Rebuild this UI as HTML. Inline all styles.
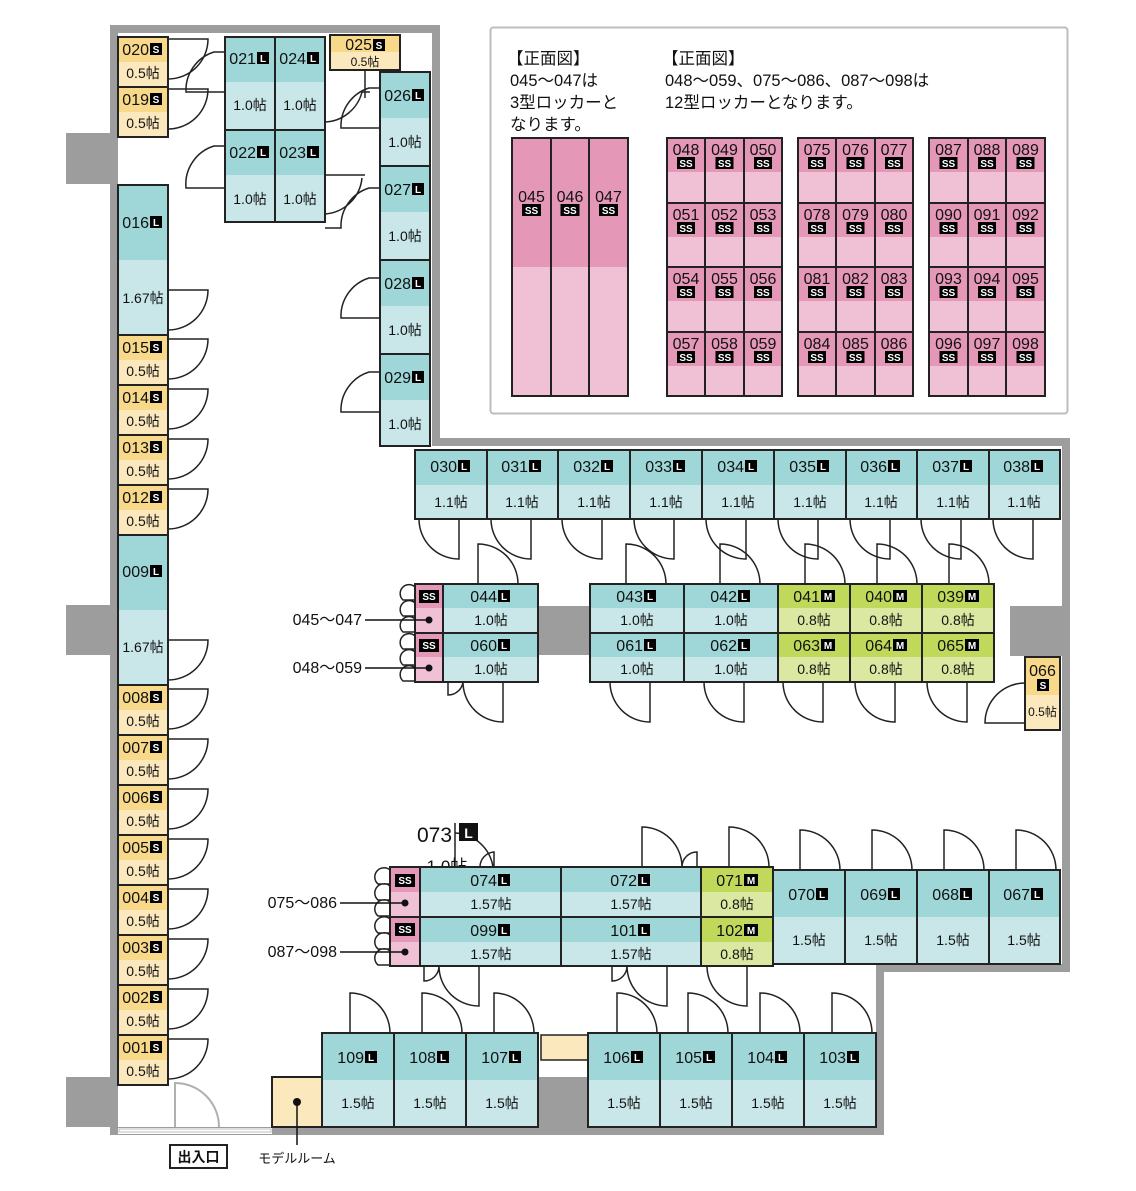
<!DOCTYPE html>
<html><head><meta charset="utf-8"><style>
body{margin:0;background:#fff}
svg{display:block;font-family:"Liberation Sans","Noto Sans CJK JP",sans-serif}
.o{fill:none;stroke:#222;stroke-width:2}
.n{font-size:16px;fill:#111;text-anchor:end}
.c{font-size:16px;fill:#111;text-anchor:middle}
.a{font-size:14px;fill:#111;text-anchor:middle}
.b{font-size:10px;fill:#fff;font-weight:bold;text-anchor:middle}
.w{fill:#9d9d9d}
.d{fill:none;stroke:#222;stroke-width:1.5}
.Lh{fill:#9fd6d8}.Lb{fill:#c9e7e9}.Sh{fill:#f8d98a}.Sb{fill:#fbe9bd}.Mh{fill:#c0d95a}.Mb{fill:#dbe8a2}.Ph{fill:#e597b8}.Pb{fill:#f0c1d5}
.t{font-size:16.5px;fill:#111}
.l{font-size:16px;fill:#111;text-anchor:end}
</style></head><body>
<svg width="1136" height="1191" viewBox="0 0 1136 1191" xmlns="http://www.w3.org/2000/svg">
<!-- walls -->
<rect class="w" x="110" y="25" width="8" height="1110"/>
<rect class="w" x="110" y="25" width="330" height="8"/>
<rect class="w" x="432" y="25" width="8" height="421"/>
<rect class="w" x="432" y="438" width="638" height="8"/>
<rect class="w" x="1062" y="438" width="8" height="534"/>
<rect class="w" x="876" y="964" width="194" height="8"/>
<rect class="w" x="876" y="964" width="8" height="171"/>
<rect class="w" x="110" y="1127" width="774" height="8"/>
<rect class="w" x="66" y="133" width="52" height="51"/>
<rect class="w" x="66" y="605" width="52" height="50"/>
<rect class="w" x="66" y="1077" width="52" height="50"/>
<rect class="w" x="538" y="606" width="52" height="49"/>
<rect class="w" x="1010" y="606" width="52" height="50"/>
<rect class="w" x="538" y="1077" width="52" height="50"/>
<rect x="118" y="1128" width="154" height="6" fill="#fff"/>
<rect x="119" y="1129" width="152" height="3" fill="none" stroke="#c8c8c8" stroke-width="1.2"/>
<path d="M175,1127 V1083 A44,44 0 0 1 219,1127" fill="none" stroke="#b0b0b0" stroke-width="2"/>
<rect x="170" y="1145" width="57" height="23" fill="#fff" stroke="#222" stroke-width="2"/>
<text x="198.5" y="1162" font-size="14" font-weight="bold" text-anchor="middle" fill="#111">出入口</text>
<!-- model room -->
<rect x="272" y="1077" width="50" height="50" class="Sb"/><rect x="272" y="1077" width="50" height="50" class="o"/>
<circle cx="297" cy="1102" r="4" fill="#111"/><path d="M297,1102 V1145" stroke="#111" stroke-width="1.5"/>
<text x="297" y="1163" font-size="13" text-anchor="middle" fill="#111">モデルルーム</text>
<rect x="541" y="1035" width="47" height="25" class="Sb"/><rect x="541" y="1035" width="47" height="25" fill="none" stroke="#222" stroke-width="1.5"/>

<!-- doors -->
<g class="d">
<path d="M168,39 H208 A40,40 0 0 1 168,79"/>
<path d="M168,89 H208 A40,40 0 0 1 168,129"/>
<path d="M168,290 H208 A40,40 0 0 1 168,330"/>
<path d="M168,339 H208 A40,40 0 0 1 168,379"/><path d="M168,389 H208 A40,40 0 0 1 168,429"/><path d="M168,439 H208 A40,40 0 0 1 168,479"/><path d="M168,489 H208 A40,40 0 0 1 168,529"/>
<path d="M168,640 H208 A40,40 0 0 1 168,680"/>
<path d="M168,689 H208 A40,40 0 0 1 168,729"/><path d="M168,739 H208 A40,40 0 0 1 168,779"/><path d="M168,789 H208 A40,40 0 0 1 168,829"/><path d="M168,839 H208 A40,40 0 0 1 168,879"/><path d="M168,889 H208 A40,40 0 0 1 168,929"/><path d="M168,939 H208 A40,40 0 0 1 168,979"/><path d="M168,989 H208 A40,40 0 0 1 168,1029"/><path d="M168,1039 H208 A40,40 0 0 1 168,1079"/>
<path d="M225,92 H186 A40,40 0 0 1 214,52 H225"/>
<path d="M225,188 H186 A40,40 0 0 1 214,146 H225"/>
<path d="M325,122 A40,40 0 0 0 362,92 H370 M365,98 V70"/>
<path d="M325,214 A40,40 0 0 0 362,178"/>
<path d="M380,128 H341 A40,40 0 0 1 369,88 H380 M325,175 H365 M325,228 H341 A40,40 0 0 1 369,188 H380"/>
<path d="M380,318 H341 A40,40 0 0 1 369,278 H380"/>
<path d="M380,412 H341 A40,40 0 0 1 369,372 H380"/>
<path d="M459,519 V559 A40,40 0 0 1 419,519"/><path d="M531,519 V559 A40,40 0 0 1 491,519"/><path d="M602,519 V559 A40,40 0 0 1 562,519"/><path d="M674,519 V559 A40,40 0 0 1 634,519"/><path d="M746,519 V559 A40,40 0 0 1 706,519"/><path d="M818,519 V559 A40,40 0 0 1 778,519"/><path d="M890,519 V559 A40,40 0 0 1 850,519"/><path d="M961,519 V559 A40,40 0 0 1 921,519"/><path d="M1033,519 V559 A40,40 0 0 1 993,519"/>
<path d="M478,584 V544 A40,40 0 0 1 518,584"/><path d="M626,584 V544 A40,40 0 0 1 666,584"/><path d="M720,584 V544 A40,40 0 0 1 760,584"/><path d="M805,584 V544 A40,40 0 0 1 845,584"/><path d="M877,584 V544 A40,40 0 0 1 917,584"/><path d="M949,584 V544 A40,40 0 0 1 989,584"/>
<path d="M503,682 V722 A40,40 0 0 1 463,682 M448,682 V695 A15,15 0 0 0 463,682"/><path d="M650,682 V722 A40,40 0 0 1 610,682"/><path d="M744,682 V722 A40,40 0 0 1 704,682"/><path d="M823,682 V722 A40,40 0 0 1 783,682"/><path d="M895,682 V722 A40,40 0 0 1 855,682"/><path d="M967,682 V722 A40,40 0 0 1 927,682"/>
<path d="M1025,723 H985 A40,40 0 0 1 1025,683"/>
<path d="M455,823 V867 M455,833 A40,40 0 0 1 493,867 M494,867 V852 A15,15 0 0 0 480,867"/>
<path d="M642,867 V827 A40,40 0 0 1 682,867 M697,867 V852 A15,15 0 0 0 682,867"/><path d="M729,867 V827 A40,40 0 0 1 769,867"/>
<path d="M800,870 V830 A40,40 0 0 1 840,870"/><path d="M872,870 V830 A40,40 0 0 1 912,870"/><path d="M944,870 V830 A40,40 0 0 1 984,870"/><path d="M1016,870 V830 A40,40 0 0 1 1056,870"/>
<path d="M479,966 V1006 A40,40 0 0 1 439,966 M424,966 V981 A15,15 0 0 0 439,966"/><path d="M667,966 V1006 A40,40 0 0 1 627,966 M612,966 V981 A15,15 0 0 0 627,966"/><path d="M747,966 V1006 A40,40 0 0 1 707,966"/>
<path d="M350,1033 V993 A40,40 0 0 1 390,1033"/><path d="M422,1033 V993 A40,40 0 0 1 462,1033"/><path d="M494,1033 V993 A40,40 0 0 1 534,1033"/><path d="M617,1033 V993 A40,40 0 0 1 657,1033"/><path d="M688,1033 V993 A40,40 0 0 1 728,1033"/><path d="M760,1033 V993 A40,40 0 0 1 800,1033"/><path d="M832,1033 V993 A40,40 0 0 1 872,1033"/>
<path d="M415,600 H403 A8,8 0 0 1 415,587 M415,616 H403 A8,8 0 0 1 415,603 M415,632 H403 A8,8 0 0 1 415,619 M415,649 H403 A8,8 0 0 1 415,636 M415,665 H403 A8,8 0 0 1 415,652 M415,681 H403 A8,8 0 0 1 415,668"/>
<path d="M390,884 H378 A8,8 0 0 1 390,870 M390,900 H378 A8,8 0 0 1 390,886 M390,916 H378 A8,8 0 0 1 390,902 M390,933 H378 A8,8 0 0 1 390,919 M390,949 H378 A8,8 0 0 1 390,935 M390,965 H378 A8,8 0 0 1 390,951"/>
</g>

<!-- 073 label -->
<text x="417" y="842" font-size="21" fill="#111">073</text>
<rect x="459" y="823" width="19" height="18" fill="#111"/><text x="468.5" y="838" font-size="14" font-weight="bold" fill="#fff" text-anchor="middle">L</text>
<text x="447" y="872" font-size="17" fill="#111" text-anchor="middle">1.0帖</text>

<!-- left column -->
<g>
<rect class="Sh" x="118" y="37" width="50" height="25"/><rect class="Sb" x="118" y="62" width="50" height="25"/><rect class="o" x="118" y="37" width="50" height="50"/><text class="n" x="149" y="55">020</text><rect x="150" y="43" width="12" height="12"/><text class="b" x="156" y="53">S</text><text class="a" x="143" y="78">0.5帖</text>
<rect class="Sh" x="118" y="87" width="50" height="25"/><rect class="Sb" x="118" y="112" width="50" height="25"/><rect class="o" x="118" y="87" width="50" height="50"/><text class="n" x="149" y="105">019</text><rect x="150" y="93" width="12" height="12"/><text class="b" x="156" y="103">S</text><text class="a" x="143" y="128">0.5帖</text>
<rect class="Lh" x="118" y="185" width="50" height="75"/><rect class="Lb" x="118" y="260" width="50" height="75"/><rect class="o" x="118" y="185" width="50" height="150"/><text class="n" x="149" y="228">016</text><rect x="150" y="216" width="12" height="12"/><text class="b" x="156" y="226">L</text><text class="a" x="143" y="303">1.67帖</text>
<rect class="Sh" x="118" y="335" width="50" height="25"/><rect class="Sb" x="118" y="360" width="50" height="25"/><rect class="o" x="118" y="335" width="50" height="50"/><text class="n" x="149" y="353">015</text><rect x="150" y="341" width="12" height="12"/><text class="b" x="156" y="351">S</text><text class="a" x="143" y="376">0.5帖</text>
<rect class="Sh" x="118" y="385" width="50" height="25"/><rect class="Sb" x="118" y="410" width="50" height="25"/><rect class="o" x="118" y="385" width="50" height="50"/><text class="n" x="149" y="403">014</text><rect x="150" y="391" width="12" height="12"/><text class="b" x="156" y="401">S</text><text class="a" x="143" y="426">0.5帖</text>
<rect class="Sh" x="118" y="435" width="50" height="25"/><rect class="Sb" x="118" y="460" width="50" height="25"/><rect class="o" x="118" y="435" width="50" height="50"/><text class="n" x="149" y="453">013</text><rect x="150" y="441" width="12" height="12"/><text class="b" x="156" y="451">S</text><text class="a" x="143" y="476">0.5帖</text>
<rect class="Sh" x="118" y="485" width="50" height="25"/><rect class="Sb" x="118" y="510" width="50" height="25"/><rect class="o" x="118" y="485" width="50" height="50"/><text class="n" x="149" y="503">012</text><rect x="150" y="491" width="12" height="12"/><text class="b" x="156" y="501">S</text><text class="a" x="143" y="526">0.5帖</text>
<rect class="Lh" x="118" y="535" width="50" height="75"/><rect class="Lb" x="118" y="610" width="50" height="75"/><rect class="o" x="118" y="535" width="50" height="150"/><text class="n" x="149" y="577">009</text><rect x="150" y="565" width="12" height="12"/><text class="b" x="156" y="575">L</text><text class="a" x="143" y="652">1.67帖</text>
<rect class="Sh" x="118" y="685" width="50" height="25"/><rect class="Sb" x="118" y="710" width="50" height="25"/><rect class="o" x="118" y="685" width="50" height="50"/><text class="n" x="149" y="703">008</text><rect x="150" y="691" width="12" height="12"/><text class="b" x="156" y="701">S</text><text class="a" x="143" y="726">0.5帖</text>
<rect class="Sh" x="118" y="735" width="50" height="25"/><rect class="Sb" x="118" y="760" width="50" height="25"/><rect class="o" x="118" y="735" width="50" height="50"/><text class="n" x="149" y="753">007</text><rect x="150" y="741" width="12" height="12"/><text class="b" x="156" y="751">S</text><text class="a" x="143" y="776">0.5帖</text>
<rect class="Sh" x="118" y="785" width="50" height="25"/><rect class="Sb" x="118" y="810" width="50" height="25"/><rect class="o" x="118" y="785" width="50" height="50"/><text class="n" x="149" y="803">006</text><rect x="150" y="791" width="12" height="12"/><text class="b" x="156" y="801">S</text><text class="a" x="143" y="826">0.5帖</text>
<rect class="Sh" x="118" y="835" width="50" height="25"/><rect class="Sb" x="118" y="860" width="50" height="25"/><rect class="o" x="118" y="835" width="50" height="50"/><text class="n" x="149" y="853">005</text><rect x="150" y="841" width="12" height="12"/><text class="b" x="156" y="851">S</text><text class="a" x="143" y="876">0.5帖</text>
<rect class="Sh" x="118" y="885" width="50" height="25"/><rect class="Sb" x="118" y="910" width="50" height="25"/><rect class="o" x="118" y="885" width="50" height="50"/><text class="n" x="149" y="903">004</text><rect x="150" y="891" width="12" height="12"/><text class="b" x="156" y="901">S</text><text class="a" x="143" y="926">0.5帖</text>
<rect class="Sh" x="118" y="935" width="50" height="25"/><rect class="Sb" x="118" y="960" width="50" height="25"/><rect class="o" x="118" y="935" width="50" height="50"/><text class="n" x="149" y="953">003</text><rect x="150" y="941" width="12" height="12"/><text class="b" x="156" y="951">S</text><text class="a" x="143" y="976">0.5帖</text>
<rect class="Sh" x="118" y="985" width="50" height="25"/><rect class="Sb" x="118" y="1010" width="50" height="25"/><rect class="o" x="118" y="985" width="50" height="50"/><text class="n" x="149" y="1003">002</text><rect x="150" y="991" width="12" height="12"/><text class="b" x="156" y="1001">S</text><text class="a" x="143" y="1026">0.5帖</text>
<rect class="Sh" x="118" y="1035" width="50" height="25"/><rect class="Sb" x="118" y="1060" width="50" height="25"/><rect class="o" x="118" y="1035" width="50" height="50"/><text class="n" x="149" y="1053">001</text><rect x="150" y="1041" width="12" height="12"/><text class="b" x="156" y="1051">S</text><text class="a" x="143" y="1076">0.5帖</text>
</g>

<!-- top cluster -->
<g>
<rect class="Lh" x="225" y="37" width="100" height="45"/><rect class="Lb" x="225" y="82" width="100" height="48"/>
<rect class="Lh" x="225" y="130" width="100" height="45"/><rect class="Lb" x="225" y="175" width="100" height="47"/>
<rect class="o" x="225" y="37" width="50" height="93"/><rect class="o" x="275" y="37" width="50" height="93"/><rect class="o" x="225" y="130" width="50" height="92"/><rect class="o" x="275" y="130" width="50" height="92"/>
<text class="n" x="256" y="64">021</text><rect x="257" y="52" width="12" height="12"/><text class="b" x="263" y="62">L</text><text class="a" x="250" y="110">1.0帖</text>
<text class="n" x="306" y="64">024</text><rect x="307" y="52" width="12" height="12"/><text class="b" x="313" y="62">L</text><text class="a" x="300" y="110">1.0帖</text>
<text class="n" x="256" y="158">022</text><rect x="257" y="146" width="12" height="12"/><text class="b" x="263" y="156">L</text><text class="a" x="250" y="204">1.0帖</text>
<text class="n" x="306" y="158">023</text><rect x="307" y="146" width="12" height="12"/><text class="b" x="313" y="156">L</text><text class="a" x="300" y="204">1.0帖</text>
<rect class="Sh" x="330" y="35" width="70" height="17"/><rect class="Sb" x="330" y="52" width="70" height="18"/><rect class="o" x="330" y="35" width="70" height="35"/>
<text class="n" x="372" y="50">025</text><rect x="373" y="39" width="12" height="12"/><text class="b" x="379" y="49">S</text><text class="a" x="365" y="66" style="font-size:12px">0.5帖</text>
<rect class="Lh" x="380" y="72" width="50" height="46"/><rect class="Lb" x="380" y="118" width="50" height="48"/><rect class="o" x="380" y="72" width="50" height="94"/><text class="n" x="411" y="101">026</text><rect x="412" y="89" width="12" height="12"/><text class="b" x="418" y="99">L</text><text class="a" x="405" y="147">1.0帖</text>
<rect class="Lh" x="380" y="166" width="50" height="46"/><rect class="Lb" x="380" y="212" width="50" height="48"/><rect class="o" x="380" y="166" width="50" height="94"/><text class="n" x="411" y="195">027</text><rect x="412" y="183" width="12" height="12"/><text class="b" x="418" y="193">L</text><text class="a" x="405" y="241">1.0帖</text>
<rect class="Lh" x="380" y="260" width="50" height="46"/><rect class="Lb" x="380" y="306" width="50" height="48"/><rect class="o" x="380" y="260" width="50" height="94"/><text class="n" x="411" y="289">028</text><rect x="412" y="277" width="12" height="12"/><text class="b" x="418" y="287">L</text><text class="a" x="405" y="335">1.0帖</text>
<rect class="Lh" x="380" y="354" width="50" height="46"/><rect class="Lb" x="380" y="400" width="50" height="46"/><rect class="o" x="380" y="354" width="50" height="92"/><text class="n" x="411" y="383">029</text><rect x="412" y="371" width="12" height="12"/><text class="b" x="418" y="381">L</text><text class="a" x="405" y="429">1.0帖</text>
</g>

<!-- row 030-038 -->
<g>
<rect class="Lh" x="415" y="450" width="645" height="35"/><rect class="Lb" x="415" y="485" width="645" height="34"/>
<rect class="o" x="415" y="450" width="72" height="69"/><rect class="o" x="487" y="450" width="71" height="69"/><rect class="o" x="558" y="450" width="72" height="69"/><rect class="o" x="630" y="450" width="72" height="69"/><rect class="o" x="702" y="450" width="72" height="69"/><rect class="o" x="774" y="450" width="72" height="69"/><rect class="o" x="846" y="450" width="71" height="69"/><rect class="o" x="917" y="450" width="72" height="69"/><rect class="o" x="989" y="450" width="71" height="69"/>
<text class="n" x="457" y="472">030</text><rect x="458" y="460" width="12" height="12"/><text class="b" x="464" y="470">L</text><text class="a" x="451" y="507">1.1帖</text>
<text class="n" x="528" y="472">031</text><rect x="529" y="460" width="12" height="12"/><text class="b" x="535" y="470">L</text><text class="a" x="522" y="507">1.1帖</text>
<text class="n" x="600" y="472">032</text><rect x="601" y="460" width="12" height="12"/><text class="b" x="607" y="470">L</text><text class="a" x="594" y="507">1.1帖</text>
<text class="n" x="672" y="472">033</text><rect x="673" y="460" width="12" height="12"/><text class="b" x="679" y="470">L</text><text class="a" x="666" y="507">1.1帖</text>
<text class="n" x="744" y="472">034</text><rect x="745" y="460" width="12" height="12"/><text class="b" x="751" y="470">L</text><text class="a" x="738" y="507">1.1帖</text>
<text class="n" x="816" y="472">035</text><rect x="817" y="460" width="12" height="12"/><text class="b" x="823" y="470">L</text><text class="a" x="810" y="507">1.1帖</text>
<text class="n" x="887" y="472">036</text><rect x="888" y="460" width="12" height="12"/><text class="b" x="894" y="470">L</text><text class="a" x="881" y="507">1.1帖</text>
<text class="n" x="959" y="472">037</text><rect x="960" y="460" width="12" height="12"/><text class="b" x="966" y="470">L</text><text class="a" x="953" y="507">1.1帖</text>
<text class="n" x="1030" y="472">038</text><rect x="1031" y="460" width="12" height="12"/><text class="b" x="1037" y="470">L</text><text class="a" x="1024" y="507">1.1帖</text>
</g>

<!-- middle rows -->
<g>
<rect class="Ph" x="415" y="584" width="28" height="24"/><rect class="Pb" x="415" y="608" width="28" height="25"/><rect class="Ph" x="415" y="633" width="28" height="24"/><rect class="Pb" x="415" y="657" width="28" height="25"/>
<rect class="o" x="415" y="584" width="28" height="49"/><rect class="o" x="415" y="633" width="28" height="49"/>
<rect x="419" y="590" width="20" height="13"/><text class="b" x="429" y="600">SS</text><rect x="419" y="639" width="20" height="13"/><text class="b" x="429" y="649">SS</text>
<circle cx="429" cy="620" r="3.5" fill="#111"/><circle cx="429" cy="668" r="3.5" fill="#111"/>
<path d="M365,620 H429 M365,668 H429" stroke="#111" stroke-width="1.5"/>
<text class="l" x="362" y="625">045～047</text><text class="l" x="362" y="673">048～059</text>
<rect class="Lh" x="443" y="584" width="95" height="24"/><rect class="Lb" x="443" y="608" width="95" height="25"/><rect class="Lh" x="443" y="633" width="95" height="24"/><rect class="Lb" x="443" y="657" width="95" height="25"/>
<rect class="o" x="443" y="584" width="95" height="49"/><rect class="o" x="443" y="633" width="95" height="49"/>
<text class="n" x="497" y="602">044</text><rect x="498" y="590" width="12" height="12"/><text class="b" x="504" y="600">L</text><text class="a" x="491" y="625">1.0帖</text>
<text class="n" x="497" y="651">060</text><rect x="498" y="639" width="12" height="12"/><text class="b" x="504" y="649">L</text><text class="a" x="491" y="674">1.0帖</text>
<rect class="Lh" x="590" y="584" width="188" height="24"/><rect class="Lb" x="590" y="608" width="188" height="25"/><rect class="Lh" x="590" y="633" width="188" height="24"/><rect class="Lb" x="590" y="657" width="188" height="25"/>
<rect class="Mh" x="778" y="584" width="216" height="24"/><rect class="Mb" x="778" y="608" width="216" height="25"/><rect class="Mh" x="778" y="633" width="216" height="24"/><rect class="Mb" x="778" y="657" width="216" height="25"/>
<rect class="o" x="590" y="584" width="94" height="49"/><rect class="o" x="684" y="584" width="94" height="49"/><rect class="o" x="778" y="584" width="72" height="49"/><rect class="o" x="850" y="584" width="72" height="49"/><rect class="o" x="922" y="584" width="72" height="49"/>
<rect class="o" x="590" y="633" width="94" height="49"/><rect class="o" x="684" y="633" width="94" height="49"/><rect class="o" x="778" y="633" width="72" height="49"/><rect class="o" x="850" y="633" width="72" height="49"/><rect class="o" x="922" y="633" width="72" height="49"/>
<text class="n" x="643" y="602">043</text><rect x="644" y="590" width="12" height="12"/><text class="b" x="650" y="600">L</text><text class="a" x="637" y="625">1.0帖</text>
<text class="n" x="737" y="602">042</text><rect x="738" y="590" width="12" height="12"/><text class="b" x="744" y="600">L</text><text class="a" x="731" y="625">1.0帖</text>
<text class="n" x="820" y="602">041</text><rect x="821" y="590" width="14" height="12"/><text class="b" x="828" y="600">M</text><text class="a" x="814" y="625">0.8帖</text>
<text class="n" x="892" y="602">040</text><rect x="893" y="590" width="14" height="12"/><text class="b" x="900" y="600">M</text><text class="a" x="886" y="625">0.8帖</text>
<text class="n" x="964" y="602">039</text><rect x="965" y="590" width="14" height="12"/><text class="b" x="972" y="600">M</text><text class="a" x="958" y="625">0.8帖</text>
<text class="n" x="643" y="651">061</text><rect x="644" y="639" width="12" height="12"/><text class="b" x="650" y="649">L</text><text class="a" x="637" y="674">1.0帖</text>
<text class="n" x="737" y="651">062</text><rect x="738" y="639" width="12" height="12"/><text class="b" x="744" y="649">L</text><text class="a" x="731" y="674">1.0帖</text>
<text class="n" x="820" y="651">063</text><rect x="821" y="639" width="14" height="12"/><text class="b" x="828" y="649">M</text><text class="a" x="814" y="674">0.8帖</text>
<text class="n" x="892" y="651">064</text><rect x="893" y="639" width="14" height="12"/><text class="b" x="900" y="649">M</text><text class="a" x="886" y="674">0.8帖</text>
<text class="n" x="964" y="651">065</text><rect x="965" y="639" width="14" height="12"/><text class="b" x="972" y="649">M</text><text class="a" x="958" y="674">0.8帖</text>
<rect class="Sh" x="1025" y="657" width="35" height="38"/><rect class="Sb" x="1025" y="695" width="35" height="35"/><rect class="o" x="1025" y="657" width="35" height="73"/>
<text class="c" x="1042.5" y="676">066</text><rect x="1037" y="679" width="12" height="12"/><text class="b" x="1043" y="689">S</text><text class="a" x="1042.5" y="716" style="font-size:12px">0.5帖</text>
</g>

<!-- bottom group -->
<g>
<rect class="Ph" x="390" y="867" width="30" height="25"/><rect class="Pb" x="390" y="892" width="30" height="25"/><rect class="Ph" x="390" y="917" width="30" height="25"/><rect class="Pb" x="390" y="942" width="30" height="24"/>
<rect class="o" x="390" y="867" width="30" height="50"/><rect class="o" x="390" y="917" width="30" height="49"/>
<rect x="395" y="874" width="20" height="13"/><text class="b" x="405" y="884">SS</text><rect x="395" y="923" width="20" height="13"/><text class="b" x="405" y="933">SS</text>
<circle cx="405" cy="903" r="3.5" fill="#111"/><circle cx="405" cy="952" r="3.5" fill="#111"/>
<path d="M340,903 H405 M340,952 H405" stroke="#111" stroke-width="1.5"/>
<text class="l" x="337" y="908">075～086</text><text class="l" x="337" y="957">087～098</text>
<rect class="Lh" x="420" y="867" width="281" height="25"/><rect class="Lb" x="420" y="892" width="281" height="25"/><rect class="Lh" x="420" y="917" width="281" height="25"/><rect class="Lb" x="420" y="942" width="281" height="24"/>
<rect class="Mh" x="701" y="867" width="72" height="25"/><rect class="Mb" x="701" y="892" width="72" height="25"/><rect class="Mh" x="701" y="917" width="72" height="25"/><rect class="Mb" x="701" y="942" width="72" height="24"/>
<rect class="o" x="420" y="867" width="141" height="50"/><rect class="o" x="561" y="867" width="140" height="50"/><rect class="o" x="701" y="867" width="72" height="50"/>
<rect class="o" x="420" y="917" width="141" height="49"/><rect class="o" x="561" y="917" width="140" height="49"/><rect class="o" x="701" y="917" width="72" height="49"/>
<text class="n" x="497" y="886">074</text><rect x="498" y="874" width="12" height="12"/><text class="b" x="504" y="884">L</text><text class="a" x="491" y="909">1.57帖</text>
<text class="n" x="637" y="886">072</text><rect x="638" y="874" width="12" height="12"/><text class="b" x="644" y="884">L</text><text class="a" x="631" y="909">1.57帖</text>
<text class="n" x="743" y="886">071</text><rect x="744" y="874" width="14" height="12"/><text class="b" x="751" y="884">M</text><text class="a" x="737" y="909">0.8帖</text>
<text class="n" x="497" y="936">099</text><rect x="498" y="924" width="12" height="12"/><text class="b" x="504" y="934">L</text><text class="a" x="491" y="959">1.57帖</text>
<text class="n" x="637" y="936">101</text><rect x="638" y="924" width="12" height="12"/><text class="b" x="644" y="934">L</text><text class="a" x="631" y="959">1.57帖</text>
<text class="n" x="743" y="936">102</text><rect x="744" y="924" width="14" height="12"/><text class="b" x="751" y="934">M</text><text class="a" x="737" y="959">0.8帖</text>
<rect class="Lh" x="773" y="870" width="287" height="47"/><rect class="Lb" x="773" y="917" width="287" height="47"/>
<rect class="o" x="773" y="870" width="72" height="94"/><rect class="o" x="845" y="870" width="72" height="94"/><rect class="o" x="917" y="870" width="72" height="94"/><rect class="o" x="989" y="870" width="71" height="94"/>
<text class="n" x="815" y="900">070</text><rect x="816" y="888" width="12" height="12"/><text class="b" x="822" y="898">L</text><text class="a" x="809" y="945">1.5帖</text>
<text class="n" x="887" y="900">069</text><rect x="888" y="888" width="12" height="12"/><text class="b" x="894" y="898">L</text><text class="a" x="881" y="945">1.5帖</text>
<text class="n" x="959" y="900">068</text><rect x="960" y="888" width="12" height="12"/><text class="b" x="966" y="898">L</text><text class="a" x="953" y="945">1.5帖</text>
<text class="n" x="1030" y="900">067</text><rect x="1031" y="888" width="12" height="12"/><text class="b" x="1037" y="898">L</text><text class="a" x="1024" y="945">1.5帖</text>
</g>

<!-- bottom row -->
<g>
<rect class="Lh" x="322" y="1033" width="216" height="47"/><rect class="Lb" x="322" y="1080" width="216" height="47"/>
<rect class="Lh" x="588" y="1033" width="288" height="47"/><rect class="Lb" x="588" y="1080" width="288" height="47"/>
<rect class="o" x="322" y="1033" width="72" height="94"/><rect class="o" x="394" y="1033" width="72" height="94"/><rect class="o" x="466" y="1033" width="72" height="94"/>
<rect class="o" x="588" y="1033" width="72" height="94"/><rect class="o" x="660" y="1033" width="72" height="94"/><rect class="o" x="732" y="1033" width="72" height="94"/><rect class="o" x="804" y="1033" width="72" height="94"/>
<text class="n" x="364" y="1063">109</text><rect x="365" y="1051" width="12" height="12"/><text class="b" x="371" y="1061">L</text><text class="a" x="358" y="1108">1.5帖</text>
<text class="n" x="436" y="1063">108</text><rect x="437" y="1051" width="12" height="12"/><text class="b" x="443" y="1061">L</text><text class="a" x="430" y="1108">1.5帖</text>
<text class="n" x="508" y="1063">107</text><rect x="509" y="1051" width="12" height="12"/><text class="b" x="515" y="1061">L</text><text class="a" x="502" y="1108">1.5帖</text>
<text class="n" x="630" y="1063">106</text><rect x="631" y="1051" width="12" height="12"/><text class="b" x="637" y="1061">L</text><text class="a" x="624" y="1108">1.5帖</text>
<text class="n" x="702" y="1063">105</text><rect x="703" y="1051" width="12" height="12"/><text class="b" x="709" y="1061">L</text><text class="a" x="696" y="1108">1.5帖</text>
<text class="n" x="774" y="1063">104</text><rect x="775" y="1051" width="12" height="12"/><text class="b" x="781" y="1061">L</text><text class="a" x="768" y="1108">1.5帖</text>
<text class="n" x="846" y="1063">103</text><rect x="847" y="1051" width="12" height="12"/><text class="b" x="853" y="1061">L</text><text class="a" x="840" y="1108">1.5帖</text>
</g>

<!-- legend -->
<rect x="490.5" y="27.5" width="577" height="386" rx="3" fill="#fff" stroke="#bdbdbd" stroke-width="2"/>
<text class="t" x="507" y="64">【正面図】</text>
<text class="t" x="510" y="86">045～047は</text>
<text class="t" x="510" y="108">3型ロッカーと</text>
<text class="t" x="510" y="130">なります。</text>
<text class="t" x="662" y="64">【正面図】</text>
<text class="t" x="665" y="86">048～059、075～086、087～098は</text>
<text class="t" x="665" y="108">12型ロッカーとなります。</text>
<rect class="Ph" x="512" y="138" width="116" height="129"/><rect class="Pb" x="512" y="267" width="116" height="129"/>
<rect class="o" x="512" y="138" width="39" height="258"/><rect class="o" x="551" y="138" width="38" height="258"/><rect class="o" x="589" y="138" width="39" height="258"/>
<text class="c" x="531.5" y="202">045</text><rect x="522" y="204" width="19" height="12"/><text class="b" x="531.5" y="214">SS</text>
<text class="c" x="570" y="202">046</text><rect x="560.5" y="204" width="19" height="12"/><text class="b" x="570" y="214">SS</text>
<text class="c" x="608.5" y="202">047</text><rect x="599" y="204" width="19" height="12"/><text class="b" x="608.5" y="214">SS</text>

<g>
<rect class="Pb" x="667" y="138" width="115" height="258"/><rect class="Pb" x="798" y="138" width="115" height="258"/><rect class="Pb" x="929" y="138" width="116" height="258"/>
<rect class="Ph" x="667" y="138" width="115" height="34"/><rect class="Ph" x="667" y="203" width="115" height="34"/><rect class="Ph" x="667" y="267" width="115" height="34"/><rect class="Ph" x="667" y="332" width="115" height="34"/>
<rect class="Ph" x="798" y="138" width="115" height="34"/><rect class="Ph" x="798" y="203" width="115" height="34"/><rect class="Ph" x="798" y="267" width="115" height="34"/><rect class="Ph" x="798" y="332" width="115" height="34"/>
<rect class="Ph" x="929" y="138" width="116" height="34"/><rect class="Ph" x="929" y="203" width="116" height="34"/><rect class="Ph" x="929" y="267" width="116" height="34"/><rect class="Ph" x="929" y="332" width="116" height="34"/>
<path d="M705,138 V396 M744,138 V396 M836,138 V396 M875,138 V396 M968,138 V396 M1006,138 V396 M667,203 H782 M667,267 H782 M667,332 H782 M798,203 H913 M798,267 H913 M798,332 H913 M929,203 H1045 M929,267 H1045 M929,332 H1045" stroke="#222" stroke-width="2"/>
<rect class="o" x="667" y="138" width="115" height="258"/><rect class="o" x="798" y="138" width="115" height="258"/><rect class="o" x="929" y="138" width="116" height="258"/>
</g>
<g>
<text class="c" x="686" y="155">048</text><text class="c" x="724.5" y="155">049</text><text class="c" x="763" y="155">050</text>
<text class="c" x="686" y="220">051</text><text class="c" x="724.5" y="220">052</text><text class="c" x="763" y="220">053</text>
<text class="c" x="686" y="284">054</text><text class="c" x="724.5" y="284">055</text><text class="c" x="763" y="284">056</text>
<text class="c" x="686" y="349">057</text><text class="c" x="724.5" y="349">058</text><text class="c" x="763" y="349">059</text>
<text class="c" x="817" y="155">075</text><text class="c" x="855.5" y="155">076</text><text class="c" x="894" y="155">077</text>
<text class="c" x="817" y="220">078</text><text class="c" x="855.5" y="220">079</text><text class="c" x="894" y="220">080</text>
<text class="c" x="817" y="284">081</text><text class="c" x="855.5" y="284">082</text><text class="c" x="894" y="284">083</text>
<text class="c" x="817" y="349">084</text><text class="c" x="855.5" y="349">085</text><text class="c" x="894" y="349">086</text>
<text class="c" x="948.5" y="155">087</text><text class="c" x="987" y="155">088</text><text class="c" x="1025.5" y="155">089</text>
<text class="c" x="948.5" y="220">090</text><text class="c" x="987" y="220">091</text><text class="c" x="1025.5" y="220">092</text>
<text class="c" x="948.5" y="284">093</text><text class="c" x="987" y="284">094</text><text class="c" x="1025.5" y="284">095</text>
<text class="c" x="948.5" y="349">096</text><text class="c" x="987" y="349">097</text><text class="c" x="1025.5" y="349">098</text>
</g>
<g>
<rect x="677" y="157" width="18" height="12"/><rect x="715.5" y="157" width="18" height="12"/><rect x="754" y="157" width="18" height="12"/>
<rect x="677" y="222" width="18" height="12"/><rect x="715.5" y="222" width="18" height="12"/><rect x="754" y="222" width="18" height="12"/>
<rect x="677" y="286" width="18" height="12"/><rect x="715.5" y="286" width="18" height="12"/><rect x="754" y="286" width="18" height="12"/>
<rect x="677" y="351" width="18" height="12"/><rect x="715.5" y="351" width="18" height="12"/><rect x="754" y="351" width="18" height="12"/>
<rect x="808" y="157" width="18" height="12"/><rect x="846.5" y="157" width="18" height="12"/><rect x="885" y="157" width="18" height="12"/>
<rect x="808" y="222" width="18" height="12"/><rect x="846.5" y="222" width="18" height="12"/><rect x="885" y="222" width="18" height="12"/>
<rect x="808" y="286" width="18" height="12"/><rect x="846.5" y="286" width="18" height="12"/><rect x="885" y="286" width="18" height="12"/>
<rect x="808" y="351" width="18" height="12"/><rect x="846.5" y="351" width="18" height="12"/><rect x="885" y="351" width="18" height="12"/>
<rect x="939.5" y="157" width="18" height="12"/><rect x="978" y="157" width="18" height="12"/><rect x="1016.5" y="157" width="18" height="12"/>
<rect x="939.5" y="222" width="18" height="12"/><rect x="978" y="222" width="18" height="12"/><rect x="1016.5" y="222" width="18" height="12"/>
<rect x="939.5" y="286" width="18" height="12"/><rect x="978" y="286" width="18" height="12"/><rect x="1016.5" y="286" width="18" height="12"/>
<rect x="939.5" y="351" width="18" height="12"/><rect x="978" y="351" width="18" height="12"/><rect x="1016.5" y="351" width="18" height="12"/>
</g>
<g class="b">
<text class="b" x="686" y="167">SS</text><text class="b" x="724.5" y="167">SS</text><text class="b" x="763" y="167">SS</text>
<text class="b" x="686" y="232">SS</text><text class="b" x="724.5" y="232">SS</text><text class="b" x="763" y="232">SS</text>
<text class="b" x="686" y="296">SS</text><text class="b" x="724.5" y="296">SS</text><text class="b" x="763" y="296">SS</text>
<text class="b" x="686" y="361">SS</text><text class="b" x="724.5" y="361">SS</text><text class="b" x="763" y="361">SS</text>
<text class="b" x="817" y="167">SS</text><text class="b" x="855.5" y="167">SS</text><text class="b" x="894" y="167">SS</text>
<text class="b" x="817" y="232">SS</text><text class="b" x="855.5" y="232">SS</text><text class="b" x="894" y="232">SS</text>
<text class="b" x="817" y="296">SS</text><text class="b" x="855.5" y="296">SS</text><text class="b" x="894" y="296">SS</text>
<text class="b" x="817" y="361">SS</text><text class="b" x="855.5" y="361">SS</text><text class="b" x="894" y="361">SS</text>
<text class="b" x="948.5" y="167">SS</text><text class="b" x="987" y="167">SS</text><text class="b" x="1025.5" y="167">SS</text>
<text class="b" x="948.5" y="232">SS</text><text class="b" x="987" y="232">SS</text><text class="b" x="1025.5" y="232">SS</text>
<text class="b" x="948.5" y="296">SS</text><text class="b" x="987" y="296">SS</text><text class="b" x="1025.5" y="296">SS</text>
<text class="b" x="948.5" y="361">SS</text><text class="b" x="987" y="361">SS</text><text class="b" x="1025.5" y="361">SS</text>
</g>
</svg>
</body></html>
